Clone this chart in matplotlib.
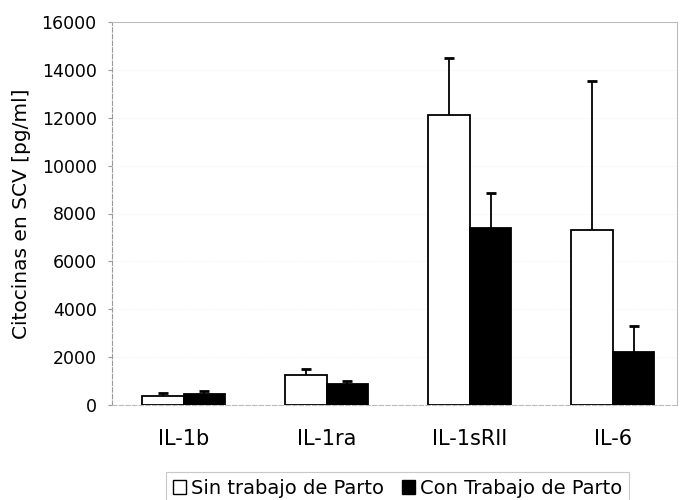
import matplotlib
matplotlib.use("Agg")
import matplotlib.pyplot as plt
from matplotlib.patches import Patch
import numpy as np

plt.rcParams['font.family'] = ['DejaVu Sans']

categories = ["IL-1b", "IL-1ra", "IL-1sRII", "IL-6"]
sin_trabajo = [380, 1240, 12100, 7300]
sin_trabajo_err = [130, 280, 2400, 6250]
con_trabajo = [470, 865, 7400, 2230]
con_trabajo_err = [100, 125, 1450, 1050]
y_ticks = [0, 2000, 4000, 6000, 8000, 10000, 12000, 14000, 16000]

fig = plt.figure(figsize=(6.81, 5.0), dpi=100)
ax = fig.add_axes([0.1645, 0.19, 0.83, 0.766])

x = np.arange(len(categories))
w = 0.29


def bars_with_upper_error(xpos, heights, errs, face):
    ax.bar(xpos, heights, w, color=face, edgecolor='black', linewidth=1.3, zorder=3)
    _, caps, _ = ax.errorbar(xpos, heights, yerr=[np.zeros(len(heights)), errs],
                             fmt='none', ecolor='black', elinewidth=1.3,
                             capsize=3.6, capthick=2.0, zorder=2)
    # keep only the cap at the top of each whisker
    caps[0].set_visible(False)


bars_with_upper_error(x - w / 2, sin_trabajo, sin_trabajo_err, 'white')
bars_with_upper_error(x + w / 2, con_trabajo, con_trabajo_err, 'black')

ax.set_xlim(-0.5, 3.45)
ax.set_ylim(0, 16000)
ax.set_yticks(y_ticks)
ax.set_yticklabels([str(v) for v in y_ticks], fontsize=12.5)
ax.set_xticks(x)
ax.set_xticklabels(categories, fontsize=15)
ax.tick_params(axis='x', length=0, pad=17)
ax.tick_params(axis='y', length=3, color='#999999', pad=8)

ax.set_ylabel("Citocinas en SCV [pg/ml]", fontsize=14.5, labelpad=8)

for s in ax.spines.values():
    s.set_color('#bbbbbb')
    s.set_linewidth(0.8)
ax.spines['left'].set_linestyle((0, (4, 2)))
ax.spines['left'].set_color('#999999')
ax.spines['bottom'].set_linestyle((0, (4, 2)))

ax.grid(axis='y', color='#f2f2f2', linestyle=':', linewidth=0.8, zorder=0)

handles = [Patch(facecolor='white', edgecolor='black', linewidth=1.0),
           Patch(facecolor='black', edgecolor='black', linewidth=1.0)]
leg = fig.legend(handles, ["Sin trabajo de Parto", "Con Trabajo de Parto"],
                 loc='lower center', bbox_to_anchor=(0.584, -0.029), ncol=2,
                 fontsize=14, frameon=True, fancybox=False,
                 handlelength=0.7, handleheight=0.7, handletextpad=0.25,
                 columnspacing=0.9, borderpad=0.35)
leg.get_frame().set_edgecolor('#bbbbbb')
leg.get_frame().set_linewidth(0.8)

fig.savefig("out.png", dpi=100)
